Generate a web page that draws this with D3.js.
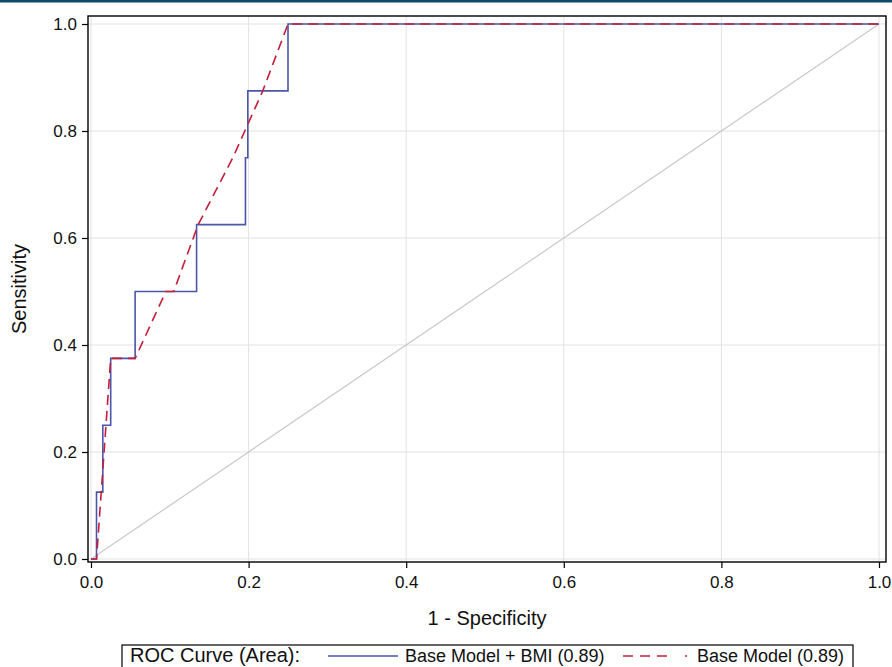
<!DOCTYPE html>
<html>
<head>
<meta charset="utf-8">
<script src="https://cdn.jsdelivr.net/npm/d3@7"></script>
<style>
  body { margin: 0; background: #fff; }
  svg { display: block; }
  svg text { font-family: "Liberation Sans", Arial, sans-serif; }
</style>
</head>
<body>
<svg></svg>
<script>
const width = 892;
const height = 667;

// ROC points: [1 - specificity, sensitivity]
const bmiFpr  = [0, 0.007, 0.007, 0.015, 0.015, 0.025, 0.025, 0.056, 0.056, 0.134, 0.134, 0.196, 0.196, 0.199, 0.199, 0.25, 0.25, 1];
const bmiSens = [0, 0, 0.125, 0.125, 0.25, 0.25, 0.375, 0.375, 0.5, 0.5, 0.625, 0.625, 0.75, 0.75, 0.875, 0.875, 1, 1];

const baseFpr  = [0, 0.007, 0.025, 0.056, 0.095, 0.105, 0.136, 0.18, 0.218, 0.25, 1];
const baseSens = [0, 0, 0.375, 0.375, 0.5, 0.5, 0.625, 0.75, 0.875, 1, 1];

const ticks = [0, 0.2, 0.4, 0.6, 0.8, 1.0];
const seriesNames = ["Base Model + BMI (0.89)", "Base Model (0.89)"];

const blue = "#4b56a8";
const red = "#c41e3a";
const font = "Liberation Sans, Arial, sans-serif";

const svg = d3.select("svg")
  .attr("width", width)
  .attr("height", height);

// dark band across the top
svg.append("rect")
  .attr("x", 0).attr("y", 0)
  .attr("width", width).attr("height", 2.5)
  .attr("fill", "#0b4a6b");

const frame = { left: 88, right: 886, top: 16, bottom: 562 };

const x = d3.scaleLinear().domain([0, 1]).range([91, 879]);
const y = d3.scaleLinear().domain([0, 1]).range([559, 24]);

// grid
svg.append("g")
  .selectAll("line.vgrid")
  .data(ticks)
  .join("line")
  .attr("x1", d => x(d)).attr("x2", d => x(d))
  .attr("y1", frame.top).attr("y2", frame.bottom)
  .attr("stroke", "#e2e2e2");

svg.append("g")
  .selectAll("line.hgrid")
  .data(ticks)
  .join("line")
  .attr("x1", frame.left).attr("x2", frame.right)
  .attr("y1", d => y(d)).attr("y2", d => y(d))
  .attr("stroke", "#e2e2e2");

// chance diagonal
svg.append("line")
  .attr("x1", x(0)).attr("y1", y(0))
  .attr("x2", x(1)).attr("y2", y(1))
  .attr("stroke", "#c9c9c9")
  .attr("stroke-width", 1.2);

const line = d3.line()
  .x(d => x(d[0]))
  .y(d => y(d[1]));

const bmiPts = bmiFpr.map((f, i) => [f, bmiSens[i]]);
const basePts = baseFpr.map((f, i) => [f, baseSens[i]]);

svg.append("path")
  .datum(bmiPts)
  .attr("d", line)
  .attr("fill", "none")
  .attr("stroke", blue)
  .attr("stroke-width", 1.6);

svg.append("path")
  .datum(basePts)
  .attr("d", line)
  .attr("fill", "none")
  .attr("stroke", red)
  .attr("stroke-width", 1.6)
  .attr("stroke-dasharray", "10,6");

// frame
svg.append("rect")
  .attr("x", frame.left).attr("y", frame.top)
  .attr("width", frame.right - frame.left)
  .attr("height", frame.bottom - frame.top)
  .attr("fill", "none")
  .attr("stroke", "#000")
  .attr("stroke-width", 1.4);

// axes
const xAxis = d3.axisBottom(x)
  .tickValues(ticks)
  .tickFormat(d3.format(".1f"))
  .tickSize(6)
  .tickPadding(8);

const gx = svg.append("g")
  .attr("transform", `translate(0,${frame.bottom})`)
  .call(xAxis)
  .attr("font-family", font)
  .attr("font-size", 17);
gx.select(".domain").remove();
gx.selectAll("line").attr("stroke", "#000").attr("stroke-width", 1.2);
gx.selectAll("text").attr("fill", "#111");

const yAxis = d3.axisLeft(y)
  .tickValues(ticks)
  .tickFormat(d3.format(".1f"))
  .tickSize(6)
  .tickPadding(5);

const gy = svg.append("g")
  .attr("transform", `translate(${frame.left},0)`)
  .call(yAxis)
  .attr("font-family", font)
  .attr("font-size", 17);
gy.select(".domain").remove();
gy.selectAll("line").attr("stroke", "#000").attr("stroke-width", 1.2);
gy.selectAll("text").attr("fill", "#111");

svg.append("text")
  .attr("x", (frame.left + frame.right) / 2)
  .attr("y", 625)
  .attr("text-anchor", "middle")
  .attr("font-size", 20)
  .attr("fill", "#111")
  .text("1 - Specificity");

svg.append("text")
  .attr("transform", `translate(26,${(frame.top + frame.bottom) / 2}) rotate(-90)`)
  .attr("text-anchor", "middle")
  .attr("font-size", 20)
  .attr("fill", "#111")
  .text("Sensitivity");

// legend
const legend = svg.append("g");

legend.append("rect")
  .attr("x", 122).attr("y", 645)
  .attr("width", 731).attr("height", 40)
  .attr("fill", "#fff")
  .attr("stroke", "#000")
  .attr("stroke-width", 1.2);

legend.append("text")
  .attr("x", 130).attr("y", 662)
  .attr("font-size", 20)
  .attr("fill", "#111")
  .text("ROC Curve (Area):");

legend.append("line")
  .attr("x1", 328).attr("x2", 398)
  .attr("y1", 656).attr("y2", 656)
  .attr("stroke", blue)
  .attr("stroke-width", 1.6);

legend.append("text")
  .attr("x", 405).attr("y", 662)
  .attr("font-size", 18)
  .attr("fill", "#111")
  .text(seriesNames[0]);

legend.append("line")
  .attr("x1", 623).attr("x2", 690)
  .attr("y1", 656).attr("y2", 656)
  .attr("stroke", red)
  .attr("stroke-width", 1.6)
  .attr("stroke-dasharray", "10,7,10,7,10,18,2");

legend.append("text")
  .attr("x", 697).attr("y", 662)
  .attr("font-size", 18)
  .attr("fill", "#111")
  .text(seriesNames[1]);
</script>
</body>
</html>
